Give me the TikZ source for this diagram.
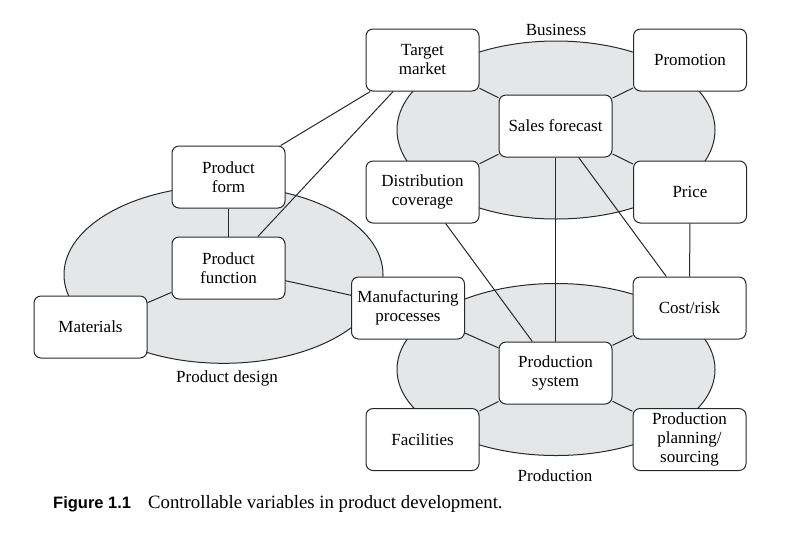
\documentclass[tikz,border=0pt]{standalone}
\usepackage{fontspec}
\setmainfont{Liberation Serif}
\newfontfamily\capsans{Liberation Sans}
\usetikzlibrary{backgrounds}
\definecolor{areagray}{RGB}{229,230,232}
\definecolor{inkline}{RGB}{40,40,40}
\begin{document}
\begin{tikzpicture}[x=1pt,y=-1pt,
  box/.style={draw=inkline, line width=1pt, fill=white, rounded corners=7pt,
    minimum width=113pt, minimum height=62pt, inner sep=0pt, align=center,
    font=\fontsize{17}{19}\selectfont},
  link/.style={draw=inkline, line width=1pt},
  area/.style={draw=inkline, line width=1pt, fill=areagray},
  lbl/.style={font=\fontsize{17}{19}\selectfont, inner sep=0pt, anchor=base}]
\useasboundingbox (0,0) rectangle (802,542);

% boxes
\node[box] (tm)    at (422.5,60)  {Target\\market};
\node[box] (promo) at (690,60)    {Promotion};
\node[box] (sf)    at (555.5,126) {Sales forecast};
\node[box] (dist)  at (422.5,192) {Distribution\\coverage};
\node[box] (price) at (690,192)   {Price};
\node[box] (pform) at (228.5,177) {Product\\form};
\node[box] (pfunc) at (228.5,268) {Product\\function};
\node[box] (mat)   at (90.5,327)  {Materials};
\node[box] (manuf) at (408,308)   {Manufacturing\\processes};
\node[box] (cost)  at (689.5,308) {Cost/risk};
\node[box] (psys)  at (555.5,373) {Production\\system};
\node[box] (fac)   at (422.5,439.5) {Facilities};
\node[box] (ppl)   at (689.5,439.5) {Production\\planning/\\sourcing};

% area labels
\node[lbl] (lbus)  at (556,35.5)  {Business};
\node[lbl] (ldes)  at (227,382.5) {Product design};
\node[lbl] (lprod) at (555,481)   {Production};

% areas
\begin{scope}[on background layer]
  \draw[area] (556,130) ellipse [x radius=159, y radius=89];
  \draw[area] (556,369.5) ellipse [x radius=159, y radius=86];
  \draw[area] (223.5,274.6) ellipse [x radius=159.5, y radius=88.7];
\end{scope}

% connectors
\draw[link] (tm) -- (sf);
\draw[link] (promo) -- (sf);
\draw[link] (dist) -- (sf);
\draw[link] (price) -- (sf);
\draw[link] (tm) -- (pform);
\draw[link] (tm) -- (pfunc);
\draw[link] (pform) -- (pfunc);
\draw[link] (pfunc) -- (mat);
\draw[link] (pfunc) -- (manuf);
\draw[link] (sf) -- (psys);
\draw[link] (sf) -- (cost);
\draw[link] (price) -- (cost);
\draw[link] (dist) -- (psys);
\draw[link] (manuf) -- (psys);
\draw[link] (cost) -- (psys);
\draw[link] (fac) -- (psys);
\draw[link] (ppl) -- (psys);

% caption
\node[anchor=base west, inner sep=0pt] (cap) at (53,508)
  {{\capsans\bfseries\fontsize{16.5}{19}\selectfont Figure 1.1}\hspace{17pt}{\fontsize{18.8}{21}\selectfont Controllable variables in product development.}};
\end{tikzpicture}
\end{document}
